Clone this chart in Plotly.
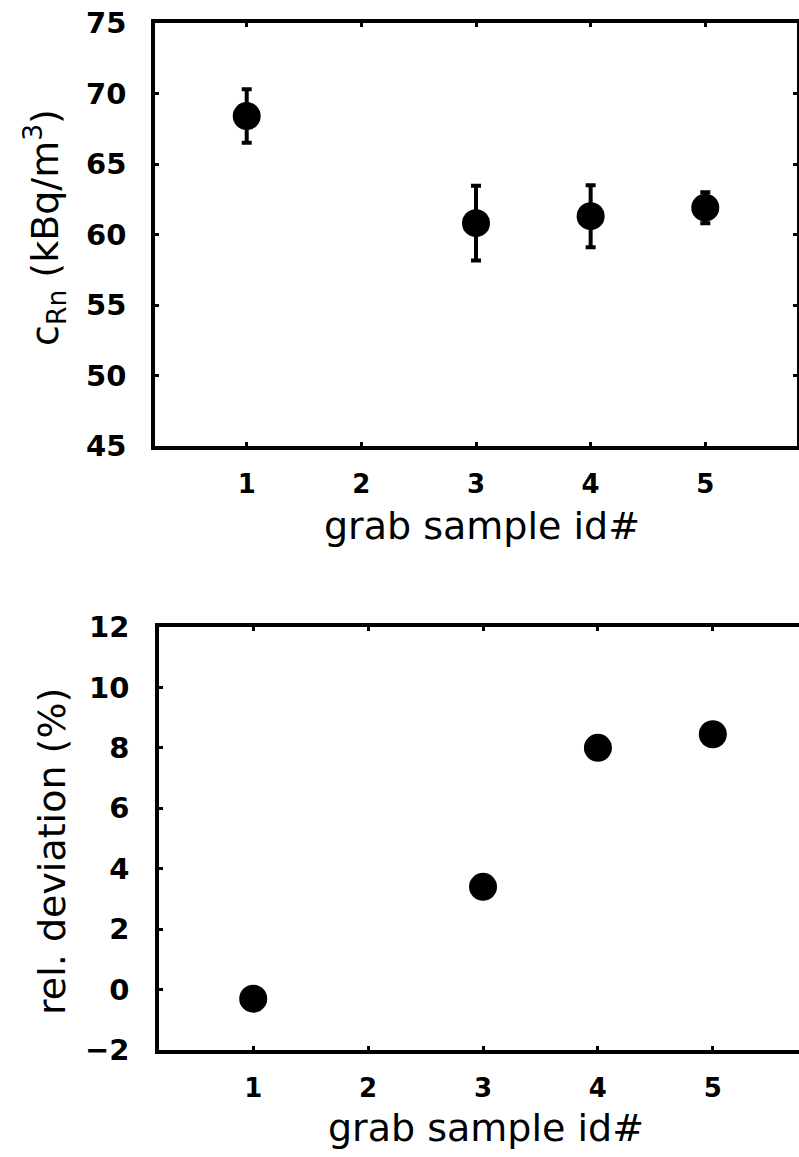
import plotly.graph_objects as go

# ---- data ----
sample_ids = [1, 3, 4, 5]
c_rn = [68.4, 60.8, 61.3, 61.9]
c_rn_err = [1.9, 2.65, 2.2, 1.1]
rel_dev = [-0.3, 3.4, 8.0, 8.45]
x_ticks = [1, 2, 3, 4, 5]
top_y_ticks = [45, 50, 55, 60, 65, 70, 75]
bot_y_ticks = [-2, 0, 2, 4, 6, 8, 10, 12]

W, H = 799, 1157
FONT = "DejaVu Sans"


def px_x(p):
    return p / W


def px_y(p):
    return 1 - p / H


fig = go.Figure()

fig.add_trace(go.Scatter(
    x=sample_ids, y=c_rn, mode="markers",
    marker=dict(size=28, color="black"),
    error_y=dict(type="data", array=c_rn_err, visible=True,
                 thickness=4, width=5, color="black"),
    xaxis="x", yaxis="y", showlegend=False,
))
fig.add_trace(go.Scatter(
    x=sample_ids, y=rel_dev, mode="markers",
    marker=dict(size=28, color="black"),
    xaxis="x2", yaxis="y2", showlegend=False,
))

axis_common = dict(
    showline=True, linecolor="black", linewidth=3.5,
    ticks="inside", ticklen=4, tickwidth=3, tickcolor="black",
    showgrid=False, zeroline=False, automargin=False,
)
xfont = dict(family=FONT, size=26, color="black", weight="bold")
yfont = dict(family=FONT, size=29, color="black", weight="bold")

fig.update_layout(
    width=W, height=H,
    margin=dict(l=0, r=0, t=0, b=0, autoexpand=False),
    paper_bgcolor="white", plot_bgcolor="white",
    xaxis=dict(domain=[px_x(155), px_x(797)], range=[0.2, 5.8],
               tickvals=x_ticks, mirror="ticks", anchor="y",
               ticklabelstandoff=12, tickfont=xfont, **axis_common),
    yaxis=dict(domain=[px_y(446), px_y(23)], range=[45, 75],
               tickvals=top_y_ticks, mirror="ticks", anchor="x",
               ticklabelstandoff=19, tickfont=yfont, **axis_common),
    xaxis2=dict(domain=[px_x(159), 1.0], range=[0.18, 5.75],
                tickvals=x_ticks, mirror="ticks", anchor="y2",
                ticklabelstandoff=12, tickfont=xfont, **axis_common),
    yaxis2=dict(domain=[px_y(1050), px_y(627)], range=[-2, 12],
                tickvals=bot_y_ticks, mirror=False, anchor="x2",
                ticklabelstandoff=20, tickfont=yfont, **axis_common),
)

title_font = dict(family=FONT, size=38, color="black")
ann = [
    dict(text="grab sample id#", x=px_x(482), y=px_y(526)),
    dict(text="grab sample id#", x=px_x(486), y=px_y(1128)),
    dict(text="c<sub>Rn</sub> (kBq/m<sup>3</sup>)", x=px_x(45), y=px_y(228), textangle=-90),
    dict(text="rel. deviation (%)", x=px_x(52), y=px_y(852), textangle=-90),
]
for a in ann:
    fig.add_annotation(xref="paper", yref="paper", showarrow=False,
                       xanchor="center", yanchor="middle",
                       font=title_font, **a)

fig.write_html("out.html")
